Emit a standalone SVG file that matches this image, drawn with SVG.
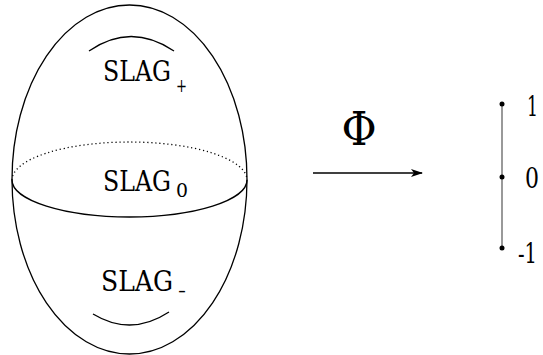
<svg xmlns="http://www.w3.org/2000/svg" width="543" height="355" viewBox="0 0 543 355">
<style>
.ln{fill:none;stroke:#000;stroke-width:1.3}
text{font-family:'DejaVu Serif',serif;fill:#000}
.big{font-size:27px}
.sub{font-size:18px}
.num{font-size:27px}
</style>
<defs>
<marker id="ah" markerWidth="12" markerHeight="8" refX="11" refY="4" orient="auto" markerUnits="userSpaceOnUse">
<path d="M0,0 L12,4 L0,8 L3,4 Z" fill="#000"/>
</marker>
</defs>
<rect width="543" height="355" fill="#fff"/>
<g id="sphere">
<ellipse class="ln" cx="129.5" cy="179.5" rx="117.5" ry="174.5"/>
<path class="ln" d="M12,180 A117.5,37 0 0 0 247,180"/>
<path class="ln" d="M12,180 A117.5,38 0 0 1 247,180" stroke-dasharray="1.2,2.8" stroke-width="1.2"/>
<path class="ln" d="M89,51 Q131,22 174,51"/>
<path class="ln" d="M93,314 Q131,337 169,312"/>
</g>
<g id="slag-plus">
<text class="big" x="103" y="81" textLength="68" lengthAdjust="spacingAndGlyphs">SLAG</text>
<text class="sub" x="176" y="92" textLength="11" lengthAdjust="spacingAndGlyphs">+</text>
</g>
<g id="slag-zero">
<text class="big" x="103" y="191" textLength="68" lengthAdjust="spacingAndGlyphs">SLAG</text>
<text class="sub" x="176" y="197" textLength="12" lengthAdjust="spacingAndGlyphs">0</text>
</g>
<g id="slag-minus">
<text class="big" x="101" y="291" textLength="72" lengthAdjust="spacingAndGlyphs">SLAG</text>
<text class="sub" x="178" y="297" textLength="8" lengthAdjust="spacingAndGlyphs">-</text>
</g>
<g id="connectors">
<line class="ln" x1="313" y1="173" x2="422" y2="173" marker-end="url(#ah)"/>
</g>
<g id="phi">
<text font-size="33" text-anchor="middle" transform="translate(359,145) scale(1.3,1.4)">Φ</text>
</g>
<g id="interval">
<line x1="502" y1="104" x2="502" y2="248" stroke="#555" stroke-width="1.2"/>
<circle cx="502" cy="104" r="2.5" fill="#000"/>
<circle cx="502" cy="177" r="2.5" fill="#000"/>
<circle cx="502" cy="248" r="2.5" fill="#000"/>
<text class="num" x="527" y="116" textLength="11" lengthAdjust="spacingAndGlyphs">1</text>
<text class="num" x="525" y="188" textLength="14" lengthAdjust="spacingAndGlyphs">0</text>
<text class="num" x="518" y="263" textLength="19" lengthAdjust="spacingAndGlyphs">-1</text>
</g>
</svg>
